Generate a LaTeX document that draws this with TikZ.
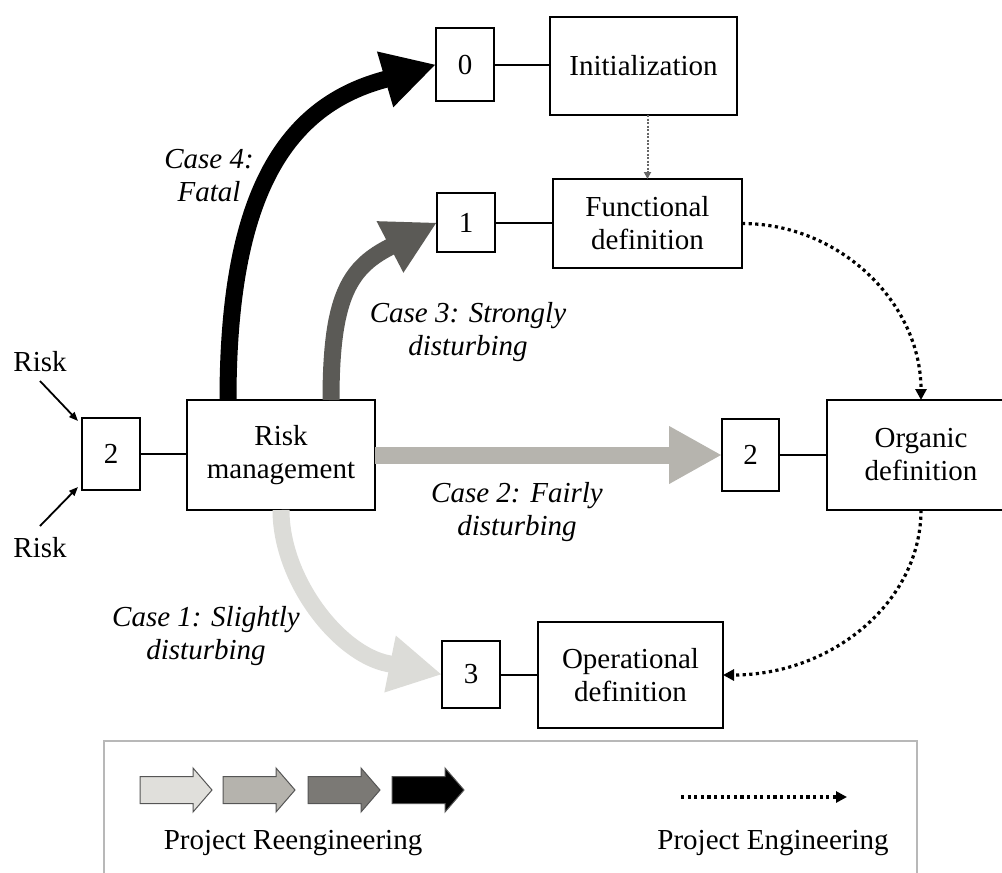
\documentclass[tikz,border=0pt]{standalone}
\usepackage{fontspec}
\setmainfont{Liberation Serif}
\usetikzlibrary{arrows.meta}
\definecolor{cA}{HTML}{DCDCD8}
\definecolor{cB}{HTML}{B6B4AE}
\definecolor{cC}{HTML}{5B5A56}
\definecolor{lA}{HTML}{E0DFDB}
\definecolor{lB}{HTML}{B5B3AD}
\definecolor{lC}{HTML}{7B7975}
\definecolor{legborder}{HTML}{B8B8B8}
\definecolor{legline}{HTML}{555555}
\newcommand\LegendArrow[2]{%
  \draw[legline, line width=1pt, fill=#2] (#1,776.5) -- ++(53,0) -- ++(0,-8.5) -- ++(19,22) -- ++(-19,22) -- ++(0,-8.5) -- ++(-53,0) -- cycle;}
\begin{document}
\begin{tikzpicture}[x=1pt,y=-1pt,
  every node/.style={font=\fontsize{29pt}{33pt}\selectfont},
  box/.style={draw, line width=2pt, inner sep=0pt, outer sep=0pt, align=center},
  lab/.style={font=\fontsize{29pt}{33pt}\selectfont\itshape, align=center, inner sep=0pt},
  link/.style={line width=2pt},
  big/.style={line width=17pt, -{Triangle[length=53pt 0 0, width=54pt 0 0]}},
  dotarrow/.style={line width=3.2pt, dash pattern=on 3.2pt off 3.4pt, -{Triangle[length=11pt 0 0, width=11pt 0 0]}},
  riskarrow/.style={line width=1.8pt, -{Triangle[length=9pt 0 0, width=7pt 0 0]}}
]
\useasboundingbox (0,0) rectangle (1002,873);

% boxes
\node[box, minimum width=58pt, minimum height=73pt] (b0) at (465,64.5) {0};
\node[box, minimum width=187pt, minimum height=98pt] (init) at (643.5,66) {Initialization};
\node[box, minimum width=58pt, minimum height=59pt] (b1) at (466,222.5) {1};
\node[box, minimum width=189pt, minimum height=89pt] (func) at (647.5,223.5) {Functional\\definition};
\node[box, minimum width=58pt, minimum height=72pt] (bR) at (111,454) {2};
\node[box, minimum width=188pt, minimum height=110pt] (rm) at (281,455) {Risk\\management};
\node[box, minimum width=57pt, minimum height=72pt] (b2) at (750.5,455) {2};
\node[box, minimum width=188pt, minimum height=110pt] (org) at (921,455) {Organic\\definition};
\node[box, minimum width=58pt, minimum height=67pt] (b3) at (471,674.5) {3};
\node[box, minimum width=185pt, minimum height=106pt] (oper) at (630.5,675) {Operational\\definition};

% links
\draw[link] (b0.east) -- (b0.east -| init.west);
\draw[link] (b1.east) -- (b1.east -| func.west);
\draw[link] (bR.east) -- (bR.east -| rm.west);
\draw[link] (b2.east) -- (b2.east -| org.west);
\draw[link] (b3.east) -- (b3.east -| oper.west);

% reengineering arrows
\draw[big, black] ([xshift=-53pt]rm.north) .. controls (228,200) and (282,108) .. (383,80) -- (b0.west);
\draw[big, cC] ([xshift=50pt]rm.north) .. controls (331,300) and (348,269) .. (388,248) -- (b1.west);
\draw[big, cB] (rm.east) -- (b2.west);
\draw[big, cA] (rm.south) .. controls (281,580) and (339,654) .. (388,663.6) -- (b3.west);

% labels
\node[lab] (l4) at (209,176) {Case 4:\\Fatal};
\node[lab] (l3) at (468,332) {Case 3: Strongly\\disturbing};
\node[lab] (l2) at (517,512) {Case 2: Fairly\\disturbing};
\node[lab] (l1) at (206,636) {Case 1: Slightly\\disturbing};

% engineering arrows
\draw[gray!80!black, line width=2pt, dash pattern=on 2pt off 1.5pt, -{Triangle[length=7pt 0 0, width=7pt 0 0]}] (func.north |- init.south) -- (func.north);
\draw[dotarrow] (func.east) .. controls (840,223.5) and (921,303) .. (org.north);
\draw[dotarrow] (org.south) .. controls (921,602) and (832,675) .. (oper.east);

% risks
\node (riskA) at (40,362) {Risk};
\node (riskB) at (40,548) {Risk};
\coordinate (ra) at (40,381);
\coordinate (rb) at (40,526);
\draw[riskarrow] (ra) -- ([shift={(-4,3)}]bR.north west);
\draw[riskarrow] (rb) -- ([shift={(-4,-3)}]bR.south west);

% legend
\draw[legborder, line width=1.5pt] (104,880) -- (104,741) -- (917,741) -- (917,880);
\LegendArrow{140}{lA}
\LegendArrow{223}{lB}
\LegendArrow{308}{lC}
\LegendArrow{392}{black}
\coordinate (le1) at (681,797);
\coordinate (le2) at (847,797);
\draw[dotarrow] (le1) -- (le2);
\node (t1) at (293,843) {Project Reengineering};
\node (t2) at (773,843) {Project Engineering};
\end{tikzpicture}
\end{document}
